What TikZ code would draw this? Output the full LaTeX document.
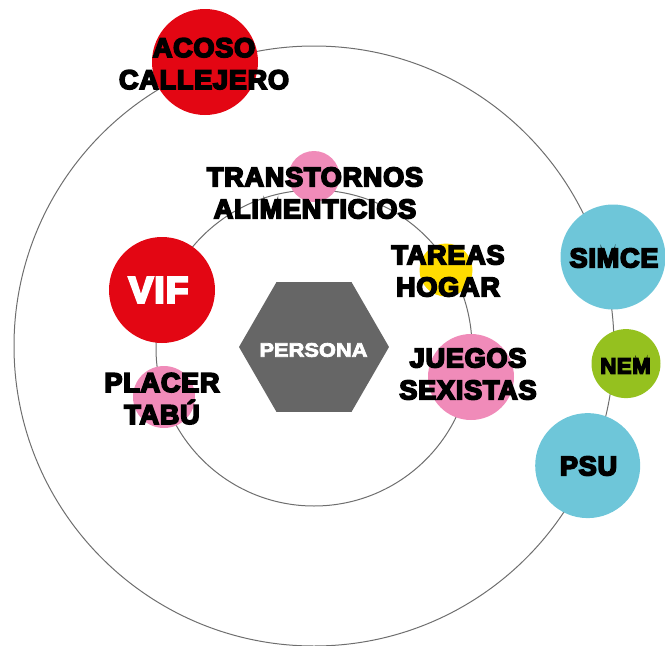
\documentclass[tikz,border=0pt]{standalone}
\usepackage{fontspec}
\usetikzlibrary{shapes.geometric}
\newfontfamily\heavy{Liberation Sans}[UprightFont=* Bold, FakeBold=6.5, LetterSpace=3]
\newfontfamily\persfont{Liberation Sans}[UprightFont=* Bold, FakeBold=4, FakeStretch=1.12]
\definecolor{cred}{HTML}{E30613}
\definecolor{cpink}{HTML}{F08BB9}
\definecolor{cyellow}{HTML}{FFDC00}
\definecolor{cblue}{HTML}{6EC6D9}
\definecolor{cgreen}{HTML}{95C11F}
\definecolor{chex}{HTML}{666666}
\definecolor{cring}{HTML}{6E6E6E}
\begin{document}
\begin{tikzpicture}[x=1pt,y=-1pt,
  ring/.style={draw=cring, line width=1pt},
  dot/.style={circle, inner sep=0pt, draw=none},
  lab/.style={font=\heavy\fontsize{27}{32}\selectfont, align=center, inner sep=0pt, text=black},
  wlab/.style={font=\heavy\fontsize{37}{40}\selectfont, inner sep=0pt, text=white}]
\useasboundingbox (0,0) rectangle (665,646);
% rings
\draw[ring] (314,346) circle[radius=300pt];
\draw[ring] (314,348) circle[radius=158pt];
% circles
\node[dot, fill=cred, minimum size=106pt] (acosoC) at (205,62) {};
\node[dot, fill=cpink, minimum size=51pt] (transC) at (314,176.5) {};
\node[dot, fill=cred, minimum size=106pt] (vifC) at (162,290) {};
\node[dot, fill=cpink, minimum size=62pt] (placerC) at (164,397) {};
\node[dot, fill=cyellow, minimum size=53pt] (tareasC) at (446,270) {};
\node[dot, fill=cpink, minimum size=86pt] (juegosC) at (471,377) {};
\node[dot, fill=cblue, minimum size=105pt] (simceC) at (613,257) {};
\node[dot, fill=cgreen, minimum size=69pt] (nemC) at (626,363.6) {};
\node[dot, fill=cblue, minimum size=105pt] (psuC) at (587.7,465.6) {};
% hexagon
\node[regular polygon, regular polygon sides=6, minimum size=150pt, inner sep=0pt, fill=chex] (persona) at (314,347) {};
% labels
\node[font=\persfont\fontsize{19.5}{22}\selectfont, text=white, inner sep=0pt] (personaT) at (313.5,350) {PERSONA};
\node[lab] (acosoT) at (204,63.7) {ACOSO\\CALLEJERO};
\node[lab] (transT) at (315,193) {TRANSTORNOS\\ALIMENTICIOS};
\node[wlab] (vifT) at (158.5,290) {VIF};
\node[lab] (placerT) at (162,398.6) {PLACER\\TABÚ};
\node[lab] (tareasT) at (448,271) {TAREAS\\HOGAR};
\node[lab] (juegosT) at (468,374) {JUEGOS\\SEXISTAS};
\node[lab] (simceT) at (614,258) {SIMCE};
\node[lab, font=\heavy\fontsize{22}{26}\selectfont] (nemT) at (625.5,366) {NEM};
\node[lab] (psuT) at (588.5,466) {PSU};
\end{tikzpicture}
\end{document}
